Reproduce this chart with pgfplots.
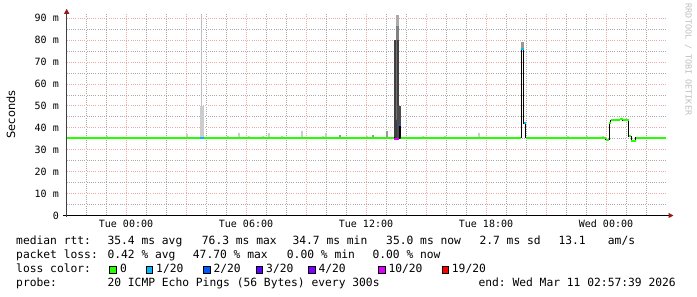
\documentclass[border=0pt]{standalone}
\usepackage{fontspec}
\setmainfont{DejaVu Sans}
\setmonofont{DejaVu Sans Mono}
\usepackage{pgfplots}
\pgfplotsset{compat=1.18}
\usetikzlibrary{arrows.meta}

\definecolor{mgrid}{RGB}{238,170,170}
\definecolor{ngrid}{RGB}{170,170,170}
\definecolor{arr}{RGB}{150,25,25}
\definecolor{l0}{HTML}{26FF00}
\definecolor{l1}{HTML}{00B8FF}
\definecolor{l2}{HTML}{0059FF}
\definecolor{l3}{HTML}{5E00FF}
\definecolor{l4}{HTML}{7E00FF}
\definecolor{l10}{HTML}{DD00FF}
\definecolor{l19}{HTML}{FF0000}

\newcommand{\lf}{\fontsize{11.3bp}{13bp}\selectfont\ttfamily}
\newcommand{\tf}{\fontsize{10bp}{12bp}\selectfont\ttfamily}

\begin{document}
\begin{tikzpicture}
\useasboundingbox (0,0) rectangle (697bp,297bp);
\begin{axis}[
  at={(66.7bp,81.5bp)}, anchor=south west,
  scale only axis, width=599.3bp, height=202.2bp,
  xmin=-2.965, xmax=27.0, ymin=0, ymax=92.3,
  axis lines=left,
  x axis line style={black, line width=1bp, shorten <=-3.4bp, shorten >=-7.5bp, -{Triangle[length=5bp,width=5bp,color=arr]}},
  y axis line style={black!75, line width=1bp, shorten <=-1.5bp, shorten >=-4.5bp, -{Triangle[length=5bp,width=5bp,color=arr]}},
  xtick={0,3,...,24},
  xticklabels={Tue 00:00,,Tue 06:00,,Tue 12:00,,Tue 18:00,,Wed 00:00},
  minor xtick={-2,-1,1,2,4,5,7,8,10,11,13,14,16,17,19,20,22,23,25,26},
  ytick={0,10,...,90},
  yticklabels={0,10 m,20 m,30 m,40 m,50 m,60 m,70 m,80 m,90 m},
  minor ytick={5,15,...,85},
  grid=both,
  major grid style={mgrid, line width=1bp, dash pattern=on 1bp off 1.2bp},
  minor grid style={ngrid, line width=1bp, dash pattern=on 1bp off 1.2bp},
  major tick length=0pt, minor tick length=0pt,
  xticklabel style={font=\tf, anchor=base, inner sep=0pt, yshift=-12.2bp},
  yticklabel style={font=\tf, anchor=east, inner sep=0pt, xshift=-7.7bp},
]
% smoke: small bits near the baseline (light)
\addplot[forget plot, draw=none, no markers,
  error bars/.cd, y dir=plus, y explicit, error mark=none,
  error bar style={draw=black!20, line width=2bp}] coordinates {
  (-0.95,35.4) +- (0,0.9)
  (3.05,35.4) +- (0,1.9)
  (4.55,35.4) +- (0,0.6)
  (5.1,35.4) +- (0,0.9)
  (5.65,35.4) +- (0,2.1)
  (6.15,35.4) +- (0,1.1)
  (6.85,35.4) +- (0,0.9)
  (7.15,35.4) +- (0,2.1)
  (7.8,35.4) +- (0,1.1)
  (8.8,35.4) +- (0,3.0)
  (9.85,35.4) +- (0,0.8)
  (10.0,35.4) +- (0,2.1)
  (11.45,35.4) +- (0,0.6)
  (12.05,35.4) +- (0,1.1)
  (14.85,35.4) +- (0,1.1)
  (15.2,35.4) +- (0,0.6)
  (15.95,35.4) +- (0,1.1)
  (16.8,35.4) +- (0,0.6)
  (17.65,35.4) +- (0,2.1)
  (22.1,35.4) +- (0,0.8)
  (23.05,35.4) +- (0,0.8)
  (23.55,35.4) +- (0,0.5)
  (23.85,35.4) +- (0,1.1)
};
% smoke: small darker bits
\addplot[forget plot, draw=none, no markers,
  error bars/.cd, y dir=plus, y explicit, error mark=none,
  error bar style={draw=black!40, line width=2bp}] coordinates {
  (10.7,35.4) +- (0,1.4)
  (12.35,35.4) +- (0,1.4)
  (13.05,35.4) +- (0,3.0)
};
% smoke: large spikes
\addplot[forget plot, fill=black!20, draw=none] coordinates {(3.7,35.4) (3.9,35.4) (3.9,50.2) (3.7,50.2)} -- cycle;
\addplot[forget plot, fill=black!25, draw=none] coordinates {(3.76,50.2) (3.82,50.2) (3.82,92.0) (3.76,92.0)} -- cycle;
\addplot[forget plot, fill=black!75, draw=none] coordinates {(13.4,35.0) (13.65,35.0) (13.65,79.9) (13.4,79.9)} -- cycle;
\addplot[forget plot, fill=black!55, draw=none] coordinates {(13.5,43.4) (13.55,43.4) (13.55,79.9) (13.5,79.9)} -- cycle;
\addplot[forget plot, fill=black!50, draw=none] coordinates {(13.5,79.9) (13.65,79.9) (13.65,86.3) (13.5,86.3)} -- cycle;
\addplot[forget plot, fill=black!33, draw=none] coordinates {(13.5,86.3) (13.65,86.3) (13.65,91.3) (13.5,91.3)} -- cycle;
\addplot[forget plot, fill=black!70, draw=none] coordinates {(13.55,35.0) (13.75,35.0) (13.75,49.8) (13.55,49.8)} -- cycle;
\addplot[forget plot, fill=black!40, draw=none] coordinates {(19.75,75.8) (19.9,75.8) (19.9,79.0) (19.75,79.0)} -- cycle;
% median (black step line)
\addplot[forget plot, const plot, black, line width=1bp] coordinates {
  (-2.965,35.4) (13.4,35.0) (13.65,41.5) (13.735,35.4)
  (19.75,75.8) (19.885,42.2) (19.975,35.4)
  (23.985,34.5) (24.165,42.2) (24.235,43.4) (24.685,44.0) (24.835,43.4)
  (25.135,36.1) (25.25,34.2) (25.485,35.4) (27.0,35.4)
};
% median, loss 0
\addplot[forget plot, l0, line width=2bp, line cap=butt, unbounded coords=jump] coordinates {
  (-2.965,35.4) (3.7,35.4) (3.8,nan)
  (3.875,35.4) (13.4,35.4) (13.5,nan)
  (13.735,35.4) (19.75,35.4) (19.8,nan)
  (19.975,35.4) (23.985,35.4) (23.99,nan)
  (23.985,34.5) (24.165,34.5) (24.17,nan)
  (24.165,42.2) (24.235,42.2) (24.24,nan)
  (24.235,43.4) (24.685,43.4) (24.69,nan)
  (24.685,44.0) (24.835,44.0) (24.84,nan)
  (24.835,43.4) (25.135,43.4) (25.14,nan)
  (25.135,36.1) (25.25,36.1) (25.26,nan)
  (25.25,34.2) (25.485,34.2) (25.49,nan)
  (25.485,35.4) (27.0,35.4)
};
% median, loss 1/20
\addplot[forget plot, l1, line width=2bp, line cap=butt, unbounded coords=jump] coordinates {
  (3.7,35.4) (3.875,35.4) (3.9,nan)
  (19.75,75.8) (19.885,75.8) (19.89,nan)
  (19.885,42.2) (19.975,42.2)
};
% median, loss 2/20
\addplot[forget plot, l2, line width=2bp, line cap=butt] coordinates {(13.65,41.5) (13.735,41.5)};
% median, loss 10/20
\addplot[forget plot, l10, line width=2bp, line cap=butt] coordinates {(13.4,35.0) (13.65,35.0)};
\end{axis}

\node[rotate=90, font=\fontsize{11.3bp}{13bp}\selectfont] at (10.8bp,182.5bp) {Seconds};
\node[rotate=-90, font=\fontsize{8.4bp}{10bp}\selectfont\ttfamily, text=black!25] at (688.3bp,237.5bp) {RRDTOOL / TOBI OETIKER};

\begin{scope}[every node/.style={anchor=base west, inner sep=0pt, font=\lf}]
\node at (16bp,52.6bp) {median rtt:};
\node at (107.3bp,52.6bp) {35.4 ms avg};
\node at (201.7bp,52.6bp) {76.3 ms max};
\node at (292.3bp,52.6bp) {34.7 ms min};
\node at (386bp,52.6bp) {35.0 ms now};
\node at (479.3bp,52.6bp) {2.7 ms sd};
\node at (558.3bp,52.6bp) {13.1};
\node at (607.7bp,52.6bp) {am/s};

\node at (16bp,38.7bp) {packet loss:};
\node at (107.3bp,38.7bp) {0.42 \% avg};
\node at (192.7bp,38.7bp) {47.70 \% max};
\node at (286.7bp,38.7bp) {0.00 \% min};
\node at (372.3bp,38.7bp) {0.00 \% now};

\node at (16bp,24.8bp) {loss color:};
\node at (120bp,24.8bp) {0};
\node at (156bp,24.8bp) {1/20};
\node at (213.3bp,24.8bp) {2/20};
\node at (266bp,24.8bp) {3/20};
\node at (318.3bp,24.8bp) {4/20};
\node at (388.3bp,24.8bp) {10/20};
\node at (451.7bp,24.8bp) {19/20};

\node at (16bp,10.9bp) {probe:};
\node at (107.3bp,10.9bp) {20 ICMP Echo Pings (56 Bytes) every 300s};
\node at (478.3bp,10.9bp) {end: Wed Mar 11 02:57:39 2026};
\end{scope}

\begin{scope}[line width=1bp, draw=black]
\filldraw[fill=l0] (109.8bp,23.5bp) rectangle (116.2bp,30.2bp);
\filldraw[fill=l1] (146.5bp,23.5bp) rectangle (152.9bp,30.2bp);
\filldraw[fill=l2] (203.8bp,23.5bp) rectangle (210.2bp,30.2bp);
\filldraw[fill=l3] (256.5bp,23.5bp) rectangle (262.9bp,30.2bp);
\filldraw[fill=l4] (308.8bp,23.5bp) rectangle (315.2bp,30.2bp);
\filldraw[fill=l10] (378.8bp,23.5bp) rectangle (385.2bp,30.2bp);
\filldraw[fill=l19] (442.2bp,23.5bp) rectangle (448.6bp,30.2bp);
\end{scope}
\end{tikzpicture}
\end{document}
